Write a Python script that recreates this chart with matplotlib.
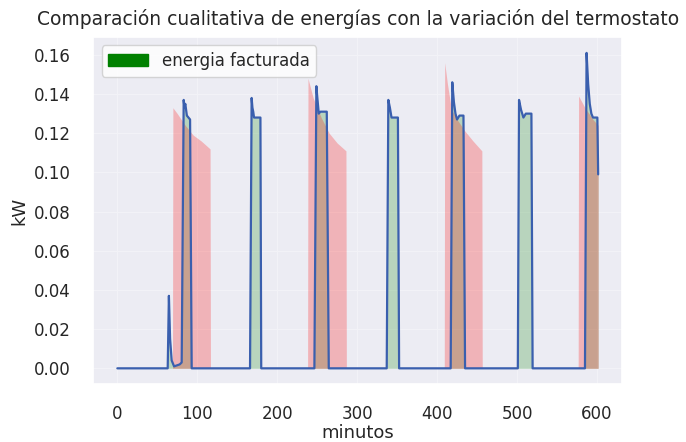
import matplotlib
matplotlib.use("Agg")
import matplotlib.pyplot as plt
import seaborn as sns
from matplotlib.patches import Patch

# potencia medida (linea azul) - puntos de quiebre (minuto, kW)
blue_t = [0, 63, 64.5, 66, 68, 71, 78, 80.5, 83, 84, 85, 87, 91, 93,
          166, 168, 169, 170, 171, 179, 180,
          246.5, 249, 250, 252, 254, 262, 264.5,
          337, 339, 341, 343, 351, 352.5,
          417, 419, 421, 423, 425, 428, 433, 435,
          501, 502.5, 505, 508, 511, 518, 519.5,
          585, 587, 589, 591, 593, 595, 600.5, 601.5]
blue_kw = [0, 0, 0.037, 0.015, 0.004, 0.001, 0.002, 0.003, 0.137, 0.133, 0.135, 0.129, 0.127, 0,
           0, 0.138, 0.133, 0.131, 0.128, 0.128, 0,
           0, 0.144, 0.139, 0.130, 0.131, 0.131, 0,
           0, 0.137, 0.133, 0.128, 0.128, 0,
           0, 0.146, 0.136, 0.130, 0.127, 0.129, 0.129, 0,
           0, 0.137, 0.132, 0.128, 0.130, 0.130, 0,
           0, 0.161, 0.145, 0.135, 0.130, 0.128, 0.128, 0.099]

# potencia con variacion del termostato (relleno rojo)
red_t = [0, 69, 69.5, 75, 85, 95, 105, 116, 116.5,
         238, 238.5, 245, 255, 265, 275, 286, 286.5,
         409, 409.5, 413, 418, 425, 435, 445, 456, 456.5,
         576.5, 577, 585, 595, 601.5]
red_kw = [0, 0, 0.133, 0.130, 0.124, 0.119, 0.116, 0.112, 0,
          0, 0.148, 0.138, 0.128, 0.120, 0.115, 0.111, 0,
          0, 0.156, 0.145, 0.132, 0.127, 0.121, 0.116, 0.111, 0,
          0, 0.139, 0.133, 0.127, 0.124]

sns.set_theme(style="darkgrid")

fig = plt.figure(figsize=(6.86, 4.42), dpi=100)
ax = fig.add_axes([0.136, 0.131, 0.771, 0.785])
ax.set_facecolor("#ececf3")
ax.grid(color="#f2f2f7", linewidth=0.8)

ax.fill_between(blue_t, blue_kw, color="green", alpha=0.22, linewidth=0)
ax.fill_between(red_t, red_kw, color="red", alpha=0.24, linewidth=0)
ax.plot(blue_t, blue_kw, color="#3a5fae", linewidth=1.6)

ax.set_title("Comparación cualitativa de energías con la variación del termostato", fontsize=13.5, pad=9)
ax.set_xlabel("minutos", fontsize=13, labelpad=1)
ax.set_ylabel("kW", fontsize=13)
ax.tick_params(axis="y", labelsize=12, pad=10)
ax.tick_params(axis="x", labelsize=12, pad=9)
ax.set_xticks([0, 100, 200, 300, 400, 500, 600])

ax.legend(handles=[Patch(color="green", label="energia facturada")], loc="upper left",
          fontsize=12, facecolor="white", framealpha=0.8, handlelength=2.4)

fig.savefig("out.png", dpi=100)
